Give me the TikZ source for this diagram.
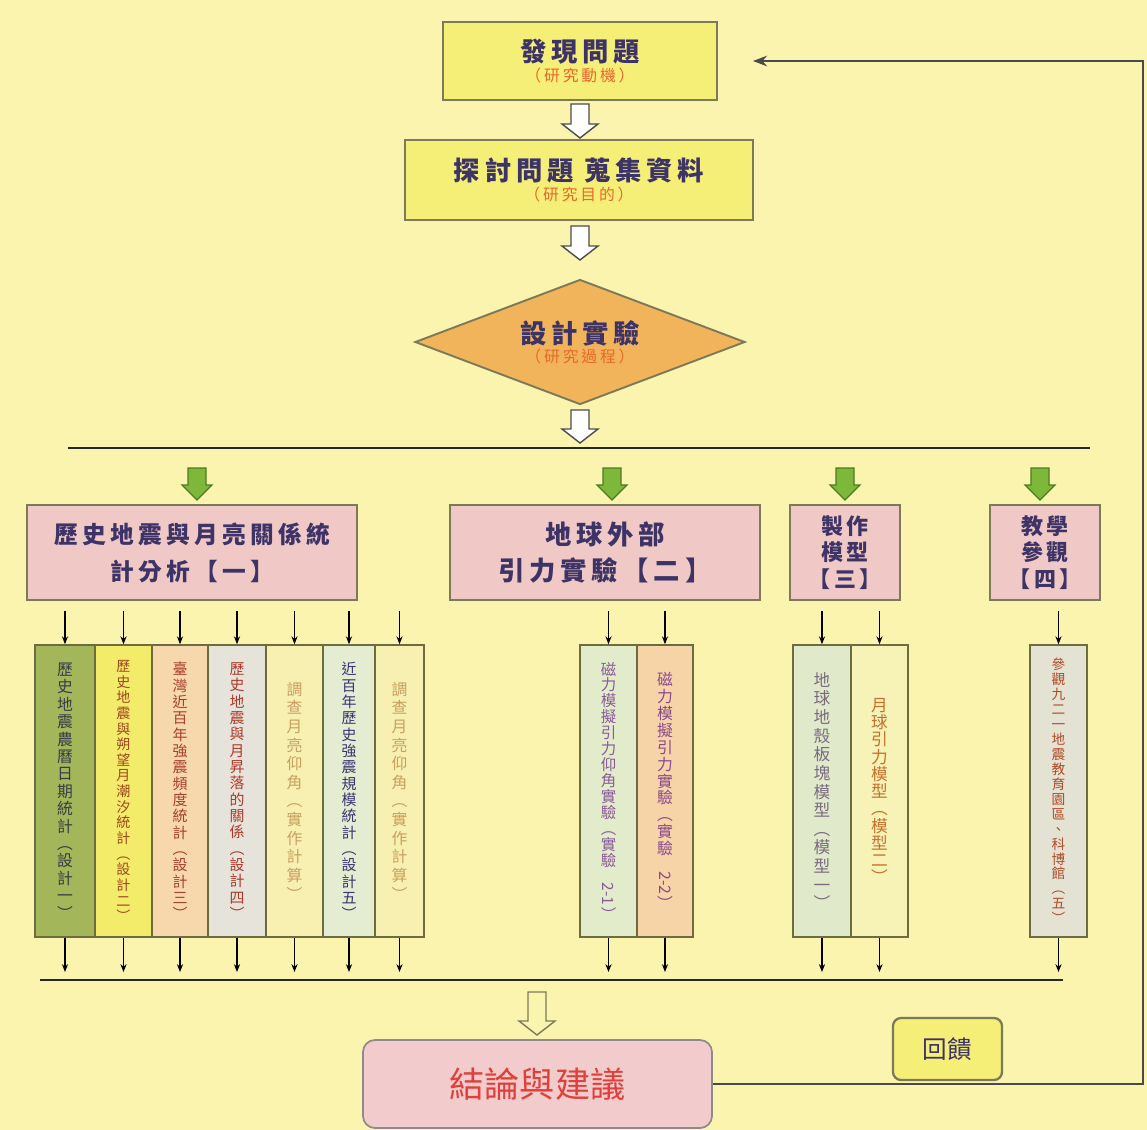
\documentclass[tikz,border=0pt]{standalone}
\usepackage{fontspec}
\setmainfont{Noto Sans CJK TC}
\newfontfamily\spaced[LetterSpace=18]{Noto Sans CJK TC}
\usetikzlibrary{shapes.geometric,arrows.meta,calc}

\definecolor{bg}{HTML}{FAF4AF}
\definecolor{ybox}{HTML}{F5EF78}
\definecolor{bord}{HTML}{7D7A5A}
\definecolor{navy}{HTML}{3D3366}
\definecolor{subor}{HTML}{E8682C}
\definecolor{dia}{HTML}{F2B45A}
\definecolor{pinkbox}{HTML}{F0C9C6}
\definecolor{colbord}{HTML}{6E6B3E}
\definecolor{gfill}{HTML}{7DB83A}
\definecolor{gline}{HTML}{4E7A22}
\definecolor{fbline}{HTML}{4A4A4A}
\definecolor{concl}{HTML}{F2CBCD}
\definecolor{concltxt}{HTML}{E0403A}

\def\pxu{0.02cm}
\def\vtend{vtend-marker}
\def\mygobble#1{}
\def\myfirst#1{#1}
\def\vtA#1#2{#1\ifx\vtend#2\expandafter\mygobble\else\\\expandafter\myfirst\fi{\vtA{#2}}}
\newcommand\vtxt[1]{\vtA#1\vtend}

\tikzset{
  topbox/.style={draw=bord, line width=1.1pt, fill=ybox, inner sep=0pt, align=center, text=navy},
  catbox/.style={draw=bord, line width=1.1pt, fill=pinkbox, inner sep=0pt, align=center, text=navy},
  colbox/.style={draw=colbord, line width=0.9pt, minimum height=292*\pxu, inner sep=0pt, align=center},
  sarrow/.style={-{Stealth[length=4.5pt,width=3.5pt]}, line width=0.6pt, black},
  mainline/.style={line width=1.3pt, black!85},
  fbarrow/.style={-{Stealth[length=8pt,width=6pt]}, line width=1.3pt, fbline},
}
\newcommand\harrow[5]{% x, ytop, ybot, fill, draw
  \filldraw[fill=#4, draw=#5, line width=0.8pt]
    ({#1-9},#2) -- ({#1+9},#2) -- ({#1+9},{#3-14}) -- ({#1+18},{#3-14}) -- (#1,#3)
    -- ({#1-18},{#3-14}) -- ({#1-9},{#3-14}) -- cycle;}

\begin{document}
\begin{tikzpicture}[x=0.02cm,y=-0.02cm]
\useasboundingbox (0,0) rectangle (1147,1130);
\fill[bg] (0,0) rectangle (1147,1130);

% top flow
\node[topbox, minimum width=274*\pxu, minimum height=78*\pxu] (b1) at (580,61)
  {{\fontsize{15}{19}\selectfont\spaced\bfseries 發現問題}\\[-1pt]{\fontsize{9}{11}\selectfont\spaced\color{subor}（研究動機）}};
\node[topbox, minimum width=348*\pxu, minimum height=80*\pxu] (b2) at (579,180)
  {{\fontsize{15}{19}\selectfont\spaced\bfseries 探討問題 蒐集資料}\\[-1pt]{\fontsize{9}{11}\selectfont\spaced\color{subor}（研究目的）}};
\node[diamond, aspect=2.64, draw=bord, line width=1.1pt, fill=dia, inner sep=0pt,
  minimum width=330*\pxu, minimum height=125*\pxu, align=center, text=navy] (d) at (580,342)
  {{\fontsize{15}{19}\selectfont\spaced\bfseries 設計實驗}\\[-1pt]{\fontsize{9}{11}\selectfont\spaced\color{subor}（研究過程）}};

\harrow{580}{104}{138}{white}{black!70}
\harrow{580}{226}{260}{white}{black!70}
\harrow{580}{410}{443}{white}{black!70}

\coordinate (ml) at (68,448);
\coordinate (mr) at (1090,448);
\draw[mainline] (ml) -- (mr);

% green arrows
\foreach \gx in {197,612,845,1040}{
  \filldraw[fill=gfill, draw=gline, line width=0.7pt]
    ({\gx-9},468) -- ({\gx+9},468) -- ({\gx+9},485) -- ({\gx+15},485) -- (\gx,500)
    -- ({\gx-15},485) -- ({\gx-9},485) -- cycle;}

% category boxes
\node[catbox, minimum width=330*\pxu, minimum height=95*\pxu,
  font=\fontsize{13.5}{21}\selectfont\spaced\bfseries] (k1) at (192,552.5)
  {歷史地震與月亮關係統\\計分析【一】};
\node[catbox, minimum width=310*\pxu, minimum height=95*\pxu,
  font=\fontsize{15}{20}\selectfont\spaced\bfseries] (k2) at (605,552.5)
  {地球外部\\引力實驗【二】};
\node[catbox, minimum width=110*\pxu, minimum height=95*\pxu,
  font=\fontsize{12.5}{15}\selectfont\spaced\bfseries] (k3) at (845,552.5)
  {製作\\模型\\【三】};
\node[catbox, minimum width=110*\pxu, minimum height=95*\pxu,
  font=\fontsize{12.5}{15}\selectfont\spaced\bfseries] (k4) at (1045,552.5)
  {教學\\參觀\\【四】};

% columns
\node[colbox, minimum width=60*\pxu, fill={rgb,255:red,163;green,182;blue,90}, text={rgb,255:red,55;green,60;blue,70}, font=\fontsize{9}{9.9}\selectfont] (c1) at (65,791)
  {\vtxt{歷史地震農曆日期統計︵設計一︶}};
\node[colbox, minimum width=57*\pxu, fill={rgb,255:red,243;green,236;blue,106}, text={rgb,255:red,160;green,70;blue,30}, font=\fontsize{8}{8.9}\selectfont] (c2) at (123.5,791)
  {\vtxt{歷史地震與朔望月潮汐統計︵設計二︶}};
\node[colbox, minimum width=56*\pxu, fill={rgb,255:red,247;green,215;blue,172}, text={rgb,255:red,168;green,64;blue,42}, font=\fontsize{8.5}{9.3}\selectfont] (c3) at (180,791)
  {\vtxt{臺灣近百年強震頻度統計︵設計三︶}};
\node[colbox, minimum width=58*\pxu, fill={rgb,255:red,230;green,228;blue,218}, text={rgb,255:red,176;green,56;blue,42}, font=\fontsize{8.5}{9.3}\selectfont] (c4) at (237,791)
  {\vtxt{歷史地震與月昇落的關係︵設計四︶}};
\node[colbox, minimum width=57*\pxu, fill={rgb,255:red,247;green,240;blue,176}, text={rgb,255:red,200;green,160;blue,96}, font=\fontsize{9}{10.6}\selectfont] (c5) at (294.5,791)
  {\vtxt{調查月亮仰角︵實作計算︶}};
\node[colbox, minimum width=52*\pxu, fill={rgb,255:red,228;green,237;blue,210}, text={rgb,255:red,58;green,52;blue,112}, font=\fontsize{8.5}{9.3}\selectfont] (c6) at (349,791)
  {\vtxt{近百年歷史強震規模統計︵設計五︶}};
\node[colbox, minimum width=49*\pxu, fill={rgb,255:red,247;green,240;blue,176}, text={rgb,255:red,200;green,160;blue,96}, font=\fontsize{9}{10.6}\selectfont] (c7) at (399.5,791)
  {\vtxt{調查月亮仰角︵實作計算︶}};
\node[colbox, minimum width=57*\pxu, fill={rgb,255:red,226;green,236;blue,203}, text={rgb,255:red,138;green,90;blue,154}, font=\fontsize{8.8}{9.1}\selectfont] (c8) at (608.5,791)
  {\vtxt{磁力模擬引力仰角實驗︵實驗{\rotatebox{-90}{2-1}}︶}};
\node[colbox, minimum width=56*\pxu, fill={rgb,255:red,247;green,211;blue,168}, text={rgb,255:red,138;green,74;blue,138}, font=\fontsize{9}{9.6}\selectfont] (c9) at (665,791)
  {\vtxt{磁力模擬引力實驗︵實驗{\rotatebox{-90}{2-2}}︶}};
\node[colbox, minimum width=58*\pxu, fill={rgb,255:red,224;green,234;blue,203}, text={rgb,255:red,122;green,106;blue,128}, font=\fontsize{9.5}{10.6}\selectfont] (c10) at (822,791)
  {\vtxt{地球地殼板塊模型︵模型一︶}};
\node[colbox, minimum width=57*\pxu, fill={rgb,255:red,247;green,242;blue,182}, text={rgb,255:red,200;green,112;blue,42}, font=\fontsize{9.5}{9.8}\selectfont] (c11) at (879.5,791)
  {\vtxt{月球引力模型︵模型二︶}};
\node[colbox, minimum width=57*\pxu, fill={rgb,255:red,228;green,226;blue,210}, text={rgb,255:red,176;green,74;blue,42}, font=\fontsize{7.8}{8.5}\selectfont] (c12) at (1058.5,791)
  {\vtxt{參觀九二一地震教育園區、科博館︵五︶}};

% arrows from category boxes to columns
\foreach \c in {c1,c2,c3,c4,c5,c6,c7}{
  \draw[sarrow] ([yshift=-10*\pxu]\c.north |- k1.south) -- (\c.north);}
\foreach \c in {c8,c9}{
  \draw[sarrow] ([yshift=-10*\pxu]\c.north |- k2.south) -- (\c.north);}
\foreach \c in {c10,c11}{
  \draw[sarrow] ([yshift=-10*\pxu]\c.north |- k3.south) -- (\c.north);}
\draw[sarrow] ([yshift=-10*\pxu]c12.north |- k4.south) -- (c12.north);

% bottom line
\coordinate (bl) at (40,980);
\coordinate (br) at (1063,980);
\draw[mainline] (bl) -- (br);
\foreach \c in {c1,c2,c3,c4,c5,c6,c7,c8,c9,c10,c11,c12}{
  \draw[sarrow] (\c.south) -- ([yshift=8*\pxu]\c.south |- bl);}

\harrow{537}{992}{1035}{ybox!60!white}{bord}

% conclusion
\node[draw=black!45, line width=1pt, fill=concl, rounded corners=12*\pxu,
  minimum width=349*\pxu, minimum height=88*\pxu, inner sep=0pt, text=concltxt,
  font=\fontsize{20}{24}\selectfont] (cc) at (537.5,1084) {結論與建議};

% feedback box
\node[draw=bord, line width=1.3pt, fill=ybox, rounded corners=8*\pxu,
  minimum width=109*\pxu, minimum height=62*\pxu, inner sep=0pt, text=navy,
  font=\fontsize{14}{17}\selectfont] (fb) at (947.5,1049) {回饋};

\draw[fbarrow] (cc.east) -- (1143,1084) |- ([xshift=35*\pxu]b1.east);
\end{tikzpicture}
\end{document}
